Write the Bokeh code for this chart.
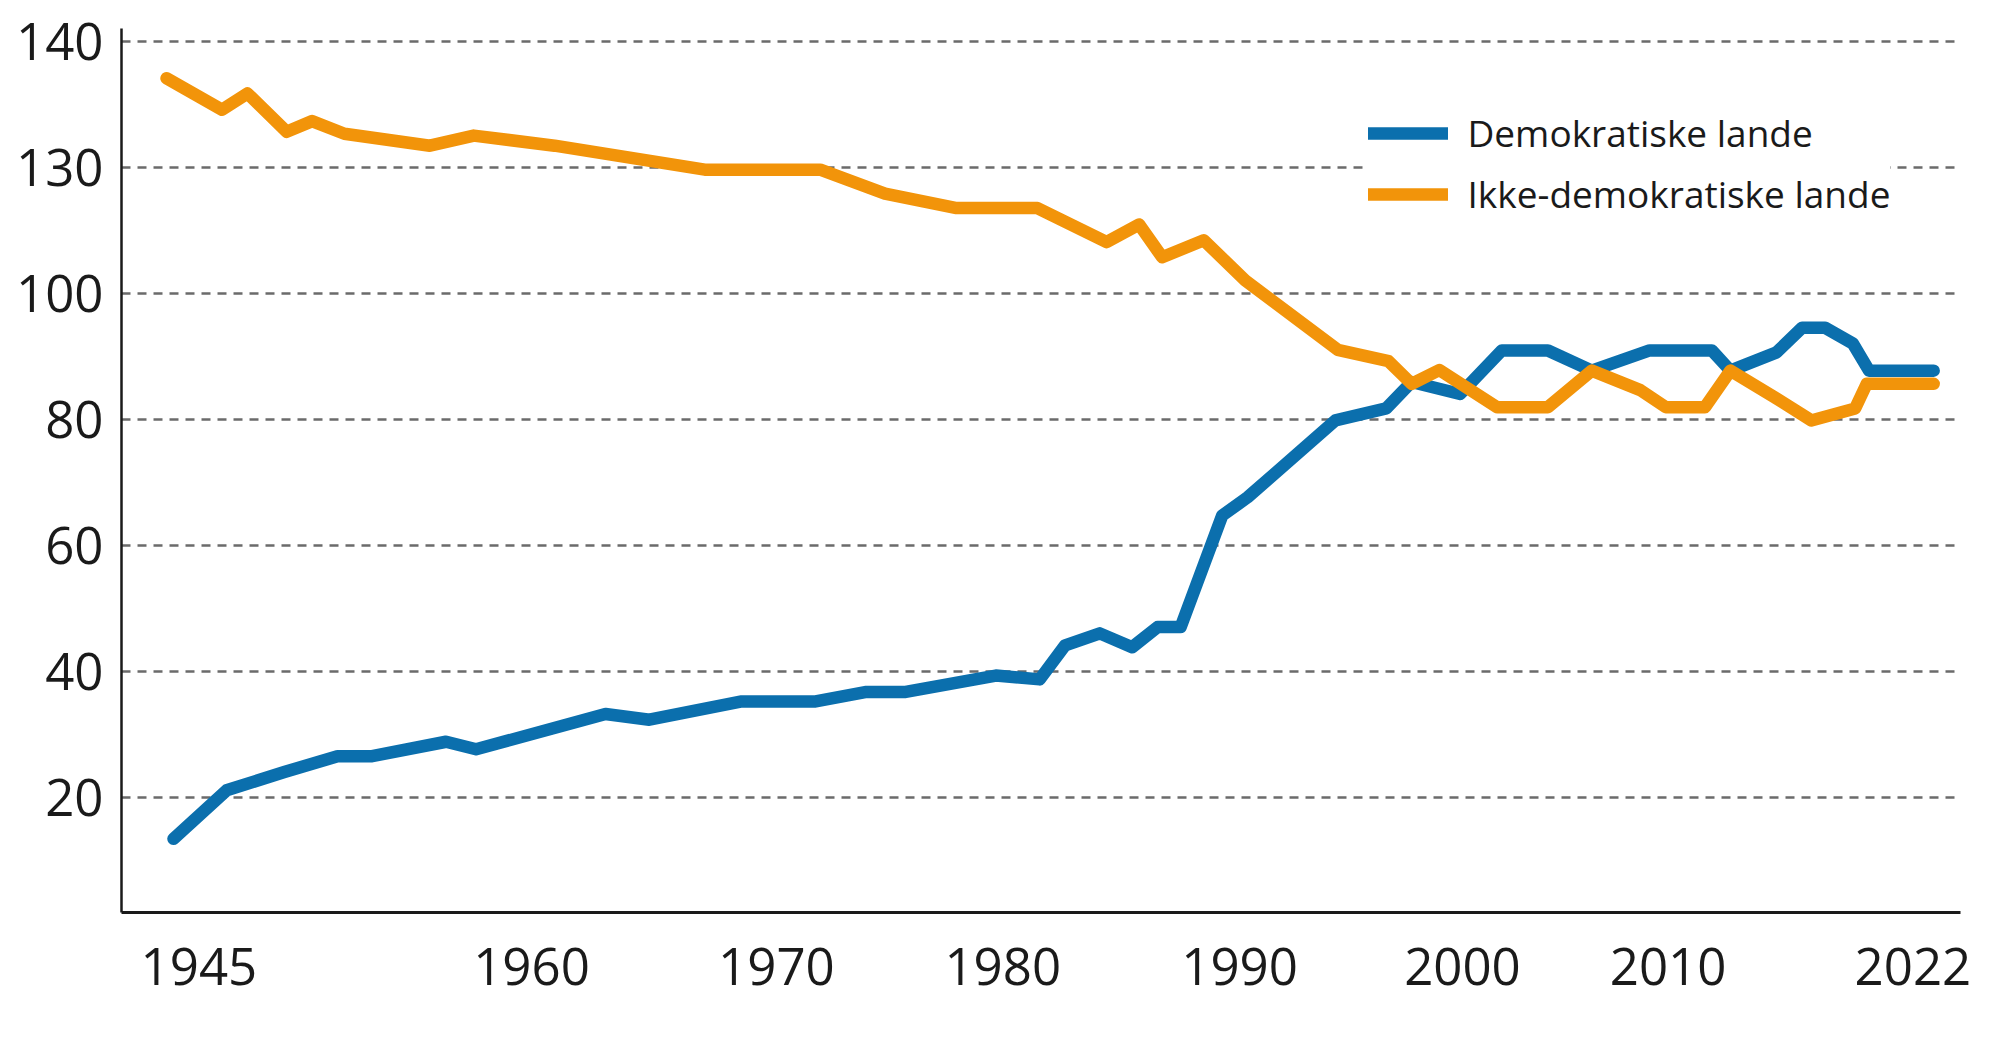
from bokeh.plotting import figure
from bokeh.models import (FixedTicker, CustomJSTickFormatter, Legend, LegendItem,
                          Range1d, ColumnDataSource)
from bokeh.embed import file_html
from bokeh.resources import INLINE

# ---- data ----
demo_year = [1945.3, 1947.6, 1950.1, 1952.4, 1953.9, 1957.1, 1958.4, 1964.0, 1965.9,
             1969.9, 1973.1, 1975.3, 1977.0, 1980.9, 1982.8, 1983.9, 1985.4, 1986.8,
             1987.9, 1988.9, 1990.7, 1991.8, 1995.6, 1997.8, 1998.9, 2001.0, 2002.8,
             2004.8, 2006.7, 2009.2, 2011.9, 2012.7, 2014.7, 2015.8, 2016.8, 2018.0,
             2018.7, 2021.5]
demo_val = [13.4, 21.1, 24.0, 26.5, 26.5, 28.8, 27.6, 33.2, 32.3,
            35.2, 35.2, 36.7, 36.7, 39.3, 38.7, 44.1, 46.0, 43.8,
            47.0, 47.0, 64.7, 67.6, 79.8, 81.7, 85.9, 84.0, 90.9,
            90.9, 87.7, 90.9, 90.9, 87.7, 90.6, 94.5, 94.5, 92.0,
            87.7, 87.7]

nondemo_year = [1945.0, 1947.4, 1948.5, 1950.2, 1951.3, 1952.7, 1956.4, 1958.3, 1961.8,
                1968.3, 1973.3, 1976.1, 1979.2, 1982.7, 1985.7, 1987.1, 1988.1, 1989.9,
                1991.7, 1995.7, 1997.9, 1998.9, 2000.1, 2002.6, 2004.8, 2006.7, 2008.8,
                2009.9, 2011.6, 2012.7, 2014.6, 2016.2, 2018.1, 2018.6, 2021.5]
nondemo_val = [134.1, 129.1, 131.7, 125.6, 127.3, 125.3, 123.4, 125.0, 123.4,
               119.6, 119.6, 115.8, 113.5, 113.5, 108.1, 110.9, 105.7, 108.4,
               102.0, 91.0, 89.2, 85.6, 87.8, 81.9, 81.9, 87.7, 84.6,
               81.9, 81.9, 87.7, 83.5, 79.8, 81.7, 85.6, 85.6]

series_names = ["Demokratiske lande", "Ikke-demokratiske lande"]

x_tick_labels = ["1945", "1960", "1970", "1980", "1990", "2000", "2010", "2022"]
x_tick_pos = [1946.4, 1960.8, 1971.4, 1981.2, 1991.45, 2001.1, 2010.0, 2020.6]

y_tick_pos = [20, 40, 60, 80, 100, 120, 140]
y_tick_labels = ["20", "40", "60", "80", "100", "130", "140"]

BLUE = "#0b6fad"
ORANGE = "#f2940a"
INK = "#1a1a1a"
FONT = "Open Sans"

p = figure(width=1984, height=1030, output_backend="svg", toolbar_location=None,
           x_range=Range1d(1943.05, 2022.66), y_range=Range1d(1.7, 142.0),
           min_border_left=121, min_border_right=24, min_border_top=28,
           min_border_bottom=118)
p.outline_line_color = None
p.background_fill_color = "white"
p.border_fill_color = "white"

src_d = ColumnDataSource(dict(x=demo_year, y=demo_val))
src_n = ColumnDataSource(dict(x=nondemo_year, y=nondemo_val))

rb = p.line("x", "y", source=src_d, line_color=BLUE, line_width=12.5,
            line_cap="round", line_join="round")
ro = p.line("x", "y", source=src_n, line_color=ORANGE, line_width=12.5,
            line_cap="round", line_join="round")

nearest_code = """
let best = 0;
for (let i = 0; i < pos.length; i++) {
  if (Math.abs(pos[i] - tick) < Math.abs(pos[best] - tick)) best = i;
}
return labels[best];
"""

# x axis
p.xaxis.ticker = FixedTicker(ticks=x_tick_pos)
p.xaxis.formatter = CustomJSTickFormatter(args=dict(pos=x_tick_pos, labels=x_tick_labels),
                                          code=nearest_code)
p.xaxis.axis_line_color = INK
p.xaxis.axis_line_width = 3
p.xaxis.major_tick_line_color = None
p.xaxis.minor_tick_line_color = None
p.xaxis.major_label_text_font = FONT
p.xaxis.major_label_text_font_size = "51px"
p.xaxis.major_label_text_color = INK
p.xaxis.major_label_standoff = 29

# y axis
p.yaxis.ticker = FixedTicker(ticks=y_tick_pos)
p.yaxis.formatter = CustomJSTickFormatter(args=dict(pos=y_tick_pos, labels=y_tick_labels),
                                          code=nearest_code)
p.yaxis.axis_line_color = INK
p.yaxis.axis_line_width = 2.5
p.yaxis.major_tick_line_color = None
p.yaxis.minor_tick_line_color = None
p.yaxis.major_label_text_font = FONT
p.yaxis.major_label_text_font_size = "51px"
p.yaxis.major_label_text_color = INK
p.yaxis.major_label_standoff = 12

# grid
p.xgrid.grid_line_color = None
p.ygrid.ticker = FixedTicker(ticks=y_tick_pos)
p.ygrid.grid_line_color = "#6b6b6b"
p.ygrid.grid_line_width = 2.5
p.ygrid.grid_line_dash = "9 7"

legend = Legend(items=[LegendItem(label=series_names[0], renderers=[rb]),
                       LegendItem(label=series_names[1], renderers=[ro])],
                location=(1246.5, 693))
legend.background_fill_color = "white"
legend.background_fill_alpha = 1.0
legend.border_line_color = None
legend.padding = 30
legend.spacing = 10
legend.margin = 0
legend.glyph_width = 80
legend.glyph_height = 40
legend.label_height = 40
legend.label_standoff = 20
legend.label_text_font = FONT
legend.label_text_font_size = "37px"
legend.label_text_color = INK
legend.label_text_baseline = "middle"
p.add_layout(legend)

open("out.html", "w").write(file_html(p, INLINE))
